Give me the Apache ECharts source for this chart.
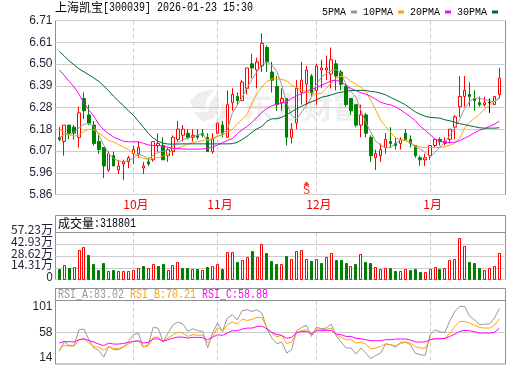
<!DOCTYPE html>
<html><head><meta charset="utf-8">
<style>html,body{margin:0;padding:0;background:#fff}#c{width:520px;height:365px}</style>
<script src="https://cdn.jsdelivr.net/npm/echarts@6/dist/echarts.min.js"></script>
</head><body><div id="c"></div>
<script>
const opens=[6.14,6.12,6.20,6.19,6.14,6.33,6.25,6.20,6.12,6.09,
5.98,6.05,5.98,6.01,6.02,6.06,6.06,5.99,6.02,6.03,
6.10,6.10,6.05,6.07,6.13,6.15,6.16,6.14,6.15,6.16,
6.14,6.07,6.16,6.20,6.14,6.31,6.34,6.32,6.38,6.50,
6.47,6.49,6.58,6.46,6.39,6.31,6.33,6.14,6.21,6.36,
6.40,6.44,6.37,6.47,6.47,6.45,6.50,6.46,6.39,6.33,
6.30,6.20,6.25,6.14,6.04,6.05,6.09,6.12,6.11,6.11,
6.16,6.13,6.10,6.04,6.03,6.05,6.10,6.13,6.11,6.13,
6.19,6.29,6.34,6.35,6.33,6.31,6.30,6.31,6.30,6.35];
const closes=[6.13,6.20,6.16,6.16,6.26,6.27,6.21,6.11,6.08,6.00,
6.06,6.00,6.00,6.02,6.04,6.08,6.09,6.00,6.01,6.12,
6.11,6.03,6.08,6.14,6.18,6.18,6.14,6.15,6.14,6.15,
6.07,6.13,6.21,6.16,6.30,6.35,6.32,6.41,6.48,6.48,
6.51,6.60,6.51,6.42,6.30,6.33,6.14,6.18,6.38,6.42,
6.47,6.36,6.49,6.48,6.48,6.52,6.44,6.40,6.30,6.27,
6.20,6.25,6.16,6.05,6.06,6.08,6.13,6.11,6.10,6.13,
6.13,6.11,6.05,6.03,6.04,6.10,6.13,6.12,6.12,6.18,
6.24,6.34,6.37,6.34,6.32,6.30,6.31,6.31,6.34,6.43];
const lows=[6.12,6.05,6.13,6.13,6.09,6.23,6.20,6.10,6.06,5.94,
5.97,6.00,5.96,5.93,5.99,6.01,6.04,5.96,6.00,6.02,
6.07,6.03,6.02,6.05,6.12,6.12,6.13,6.12,6.13,6.14,
6.07,6.06,6.16,6.14,6.14,6.27,6.30,6.32,6.35,6.43,
6.38,6.46,6.46,6.36,6.27,6.27,6.10,6.11,6.18,6.30,
6.30,6.34,6.30,6.38,6.42,6.38,6.37,6.37,6.29,6.25,
6.19,6.14,6.14,6.02,5.98,6.02,6.06,6.09,6.08,6.08,
6.13,6.09,6.04,6.00,6.00,6.03,6.09,6.10,6.10,6.11,
6.13,6.24,6.29,6.29,6.27,6.29,6.29,6.26,6.30,6.33];
const highs=[6.19,6.20,6.20,6.20,6.29,6.36,6.30,6.22,6.15,6.09,
6.07,6.07,6.03,6.03,6.05,6.10,6.12,6.02,6.04,6.12,
6.16,6.14,6.09,6.15,6.22,6.20,6.18,6.18,6.18,6.18,
6.16,6.16,6.21,6.22,6.37,6.38,6.36,6.42,6.48,6.55,
6.53,6.65,6.59,6.51,6.44,6.38,6.33,6.21,6.42,6.51,
6.49,6.45,6.50,6.52,6.54,6.58,6.52,6.47,6.40,6.33,
6.30,6.30,6.26,6.15,6.08,6.11,6.16,6.19,6.14,6.14,
6.18,6.15,6.10,6.05,6.06,6.10,6.13,6.14,6.14,6.18,
6.25,6.44,6.44,6.41,6.37,6.34,6.34,6.33,6.34,6.48];
const ma5=[6.136,6.155,6.153,6.163,6.187,6.204,6.208,6.194,6.151,6.102,
6.060,6.036,6.024,6.021,6.026,6.038,6.058,6.050,6.033,6.053,
6.065,6.072,6.077,6.097,6.114,6.129,6.136,6.143,6.151,6.158,
6.121,6.131,6.143,6.160,6.177,6.258,6.297,6.336,6.385,6.424,
6.463,6.497,6.509,6.495,6.463,6.395,6.307,6.248,6.229,6.263,
6.297,6.336,6.400,6.434,6.453,6.466,6.473,6.453,6.400,6.365,
6.336,6.273,6.214,6.165,6.121,6.102,6.090,6.090,6.111,6.126,
6.126,6.111,6.092,6.082,6.067,6.043,6.067,6.094,6.116,6.151,
6.185,6.229,6.282,6.317,6.331,6.331,6.326,6.319,6.314,6.331];
const ma10=[6.180,6.165,6.153,6.146,6.151,6.170,6.180,6.177,6.160,6.143,
6.126,6.116,6.104,6.092,6.080,6.063,6.048,6.038,6.031,6.038,
6.041,6.048,6.060,6.077,6.089,6.097,6.107,6.114,6.119,6.124,
6.129,6.136,6.146,6.151,6.165,6.180,6.204,6.229,6.253,6.307,
6.356,6.387,6.414,6.427,6.427,6.424,6.417,6.395,6.383,6.373,
6.363,6.354,6.351,6.356,6.380,6.407,6.429,6.439,6.434,6.414,
6.400,6.385,6.365,6.321,6.273,6.224,6.194,6.165,6.138,6.126,
6.124,6.116,6.099,6.092,6.090,6.090,6.090,6.090,6.093,6.102,
6.111,6.136,6.185,6.214,6.234,6.253,6.278,6.297,6.317,6.336];
const ma20=[6.470,6.444,6.414,6.387,6.351,6.307,6.273,6.243,6.204,6.177,
6.158,6.141,6.131,6.121,6.118,6.118,6.118,6.111,6.103,6.100,
6.099,6.098,6.092,6.086,6.085,6.083,6.082,6.082,6.082,6.083,
6.086,6.092,6.102,6.114,6.124,6.134,6.158,6.177,6.194,6.214,
6.238,6.263,6.282,6.295,6.302,6.307,6.314,6.331,6.344,6.354,
6.364,6.375,6.384,6.395,6.405,6.417,6.419,6.412,6.395,6.380,
6.368,6.359,6.351,6.341,6.326,6.312,6.304,6.299,6.290,6.275,
6.258,6.241,6.221,6.194,6.175,6.153,6.132,6.121,6.115,6.115,
6.116,6.124,6.136,6.148,6.163,6.175,6.182,6.194,6.204,6.219];
const ma30=[6.561,6.539,6.514,6.495,6.475,6.461,6.446,6.431,6.414,6.392,
6.368,6.341,6.317,6.295,6.270,6.248,6.219,6.190,6.160,6.136,
6.121,6.111,6.107,6.107,6.107,6.108,6.108,6.108,6.108,6.108,
6.108,6.108,6.108,6.108,6.108,6.109,6.116,6.129,6.146,6.165,
6.182,6.194,6.219,6.231,6.231,6.238,6.251,6.265,6.280,6.292,
6.304,6.314,6.324,6.336,6.341,6.348,6.356,6.361,6.365,6.369,
6.370,6.370,6.369,6.365,6.362,6.356,6.348,6.336,6.324,6.312,
6.300,6.282,6.265,6.253,6.243,6.238,6.236,6.234,6.226,6.221,
6.214,6.207,6.202,6.197,6.192,6.187,6.185,6.185,6.185,6.187];
const volumes=[12.2,17.9,14.6,15.8,36.1,39.8,30.4,18.3,11,20.7,
10.6,11,10.6,10.6,10.6,11.8,14.2,16.6,14.2,19.1,
17,18.3,11,17.9,21.5,14.6,13.4,13,12.2,11,
15.8,16.6,19.1,12.2,33.7,33.7,21.9,23.9,26.8,34.1,
26.8,43.4,31.7,23.1,19.1,19.1,29.2,25.2,34.9,36.1,
25.2,23.1,25.2,19.5,28,32.5,23.9,23.9,20.7,16.6,
18.3,31.3,21.9,20.7,15,13,14.2,13.4,10.1,10.6,
13,11,12.2,9.7,9.3,13,15.4,12.2,14.2,23.9,
25.2,50.7,41,21.9,20.7,14.6,11.8,14.2,16.6,31.88];
const volumeUp=[0,1,0,1,1,1,0,0,0,0,
1,0,1,1,1,1,1,0,1,1,
0,0,1,1,1,0,0,1,0,1,
0,1,1,0,1,1,0,1,1,0,
1,1,0,0,0,1,0,1,1,1,
1,0,1,0,1,1,0,0,0,1,
0,1,0,0,1,1,1,0,0,1,
1,0,0,0,1,1,1,0,1,1,
1,1,1,0,0,0,1,1,1,1];
const rsiA=[31.8,44.6,40,40,61.4,62.4,47.8,36.4,33.2,24,
38.6,34.1,34.1,37.7,45.5,54.6,56.9,37.7,40.9,64.6,
63.7,44.6,56.9,68.3,71.9,69.2,59.2,62.8,60.1,59.2,
36.4,56.9,70.6,59.2,77.4,82,75.1,87.4,88.8,86.5,
88.8,84.2,62.4,50,42.3,44.6,29.5,34.1,60.1,64.6,
67.4,52.3,65.1,62.8,63.7,69.2,53.2,44.6,36.4,36.4,
28.2,36.4,29.5,21.8,26.3,29.5,41.8,40.9,37.3,44.1,
44.6,40.9,29.5,27.2,26.3,54.6,61.4,58.2,58.2,73.8,
86.5,93.4,93.4,79.7,75.1,68.3,69.2,69.2,77.4,90.2];
const rsiB=[35.4,40,39.1,39.1,47.8,48.7,43.2,38.6,37.3,33.2,
38.6,35.9,35.9,37.7,41.8,45.5,45.5,37.7,39.6,51,
51.4,45.5,50,54.6,58.2,56.9,52.3,54.6,54.1,53.7,
43.2,51,64.6,59.2,68.3,71.9,69.2,76,74.2,75.6,
78.3,78.3,63.7,56.9,51.9,53.7,42.7,44.6,57.8,60.1,
61.4,54.6,62.8,61.9,61.9,63.7,54.6,51,47.8,47.8,
43.2,44.6,41.8,35.4,36.4,38.6,42.3,40.9,39.6,42.3,
44.6,43.2,38.6,36.4,36.4,47.8,49.1,49.1,49.6,56.9,
66,72.8,72.8,70.6,67.4,64.6,63.7,63.7,67.4,76.5];
const rsiC=[43.2,45.5,45,44.6,47.8,49.1,46.4,44.6,41.8,39.6,
43.2,41.8,41.8,42.7,44.1,45.5,46.4,43.2,44.1,48.7,
49.1,45.5,47.8,50,51.4,51.4,50,51,51,50.5,
47.8,51,54.6,53.7,56.9,60.1,60.1,62.4,63.7,63.7,
66,66.5,62.4,57.8,55.1,53.7,49.6,51,57.3,58.7,
59.2,56,60.1,60.1,60.5,60.5,55.5,54.6,52.3,52.3,
49.6,49.1,47.8,46.4,46.4,46.4,47.8,47.8,48.7,48.7,
48.7,47.3,44.6,44.6,44.6,47.8,49.1,49.1,49.6,52.3,
55.5,59.2,60.5,60.1,58.7,56.9,56.9,56.9,57.8,63.3];
const months={15:'10月',32:'11月',52:'12月',75:'1月'};
const priceTicks=['5.86','5.96','6.07','6.18','6.28','6.39','6.50','6.61','6.71'];
const volumeTicks=['0','14.31万','28.62万','42.93万','57.23万'];
const rsiTicks=['14','58','101'];
const sellSignals=[[50,5.915]];
const stockName='上海凯宝';
const stockStamp='[300039] 2026-01-23 15:30';

const categories=opens.map((_,i)=>months[i]||String(i));
const candles=opens.map((o,i)=>[o,closes[i],lows[i],highs[i]]);
const RED='#ff0000',GREEN='#008000',GRAY='#999999',ORANGE='#ffa500',MAGENTA='#ff00ff',DKGREEN='#006633',FRAME='#8f8f8f',GRID='#cccccc',TICK='#1c2333';
const mono='"Liberation Mono",monospace',cjk='"Noto Sans CJK SC",sans-serif',sans='"Liberation Sans",Arial,sans-serif';

const panels=[{top:20.5,height:174},{top:232.5,height:47},{top:300.5,height:63.5}];
const grid=[],xAxis=[],yAxis=[];
const pMin=5.86,pStep=5.86/55,pMax=5.86+8*pStep;
const ranges=[
 {min:pMin,max:pMax,interval:pStep,ticks:priceTicks},
 {min:0,max:57.23,interval:57.23/4,ticks:volumeTicks},
 {min:14.5,max:101.5,interval:43.5,ticks:rsiTicks}
];
panels.forEach((p,k)=>{
  grid.push({left:55.5,width:450,top:p.top,height:p.height,show:true,borderColor:FRAME,borderWidth:1,backgroundColor:'transparent'});
  xAxis.push({type:'category',gridIndex:k,data:categories,show:false});
  const r=ranges[k];
  const extra={};
  if(k===2){extra.verticalAlignMinLabel='bottom';extra.verticalAlignMaxLabel='top';}
  yAxis.push({type:'value',gridIndex:k,min:r.min,max:r.max,interval:r.interval,
    axisLine:{show:false},axisTick:{show:false},
    splitLine:{show:true,lineStyle:{color:GRID,width:1}},
    axisLabel:Object.assign({show:k!==1,margin:3,color:TICK,fontFamily:sans,fontSize:12,
      showMinLabel:true,showMaxLabel:true,hideOverlap:false,
      formatter:(v)=>r.ticks[Math.round((v-r.min)/r.interval)]},extra)});
});
panels.forEach((p,k)=>{
  const g=3+k;
  grid.push({left:56.8,width:445,top:p.top,height:p.height,show:false});
  xAxis.push({type:'category',gridIndex:g,data:categories,boundaryGap:true,
    axisLine:{show:false},axisTick:{show:false},
    splitLine:{show:true,alignWithLabel:true,interval:(i)=>i in months,lineStyle:{color:GRID,type:[4,3],width:1}},
    axisLabel:k===0?{show:true,interval:(i)=>i in months,color:RED,fontFamily:cjk,fontSize:12,margin:4,padding:[0,0,0,5],hideOverlap:false}:{show:false}});
  const r=ranges[k];
  yAxis.push({type:'value',gridIndex:g,min:r.min,max:r.max,show:false,splitLine:{show:false}});
});

const lineS=(name,data,color,x,y)=>({name,type:'line',data,xAxisIndex:x,yAxisIndex:y,symbol:'none',smooth:false,
  lineStyle:{color,width:1},itemStyle:{color},z:4,silent:true,animation:false});

// Volume bars drawn on the library's axes, snapped to whole pixels like the reference.
const renderVolume=(params,api)=>{
  const i=api.value(0),top=api.coord([i,api.value(1)]),base=api.coord([i,0]);
  const x=Math.round(top[0]-1.5)+0.5,y=Math.round(top[1])+0.5,h=Math.round(base[1])-0.5-y;
  const up=api.value(2)===1;
  return {type:'rect',shape:{x,y,width:2,height:h},style:{fill:up?'#ffffff':GREEN,stroke:up?RED:GREEN,lineWidth:1}};
};

const series=[
 {name:'K',type:'candlestick',xAxisIndex:3,yAxisIndex:3,data:candles,barWidth:3,silent:true,animation:false,z:3,
  itemStyle:{color:'#ffffff',color0:GREEN,borderColor:RED,borderColor0:GREEN,borderColorDoji:'#000000',borderWidth:1}},
 lineS('5PMA',ma5,GRAY,3,3),
 lineS('10PMA',ma10,ORANGE,3,3),
 lineS('20PMA',ma20,MAGENTA,3,3),
 lineS('30PMA',ma30,DKGREEN,3,3),
 {type:'scatter',xAxisIndex:3,yAxisIndex:3,data:sellSignals,symbol:'triangle',symbolSize:[6,4],silent:true,animation:false,z:5,
  itemStyle:{color:RED},label:{show:true,formatter:'S',position:'bottom',distance:0,color:RED,fontFamily:mono,fontSize:12}},
 {type:'custom',xAxisIndex:4,yAxisIndex:4,silent:true,animation:false,renderItem:renderVolume,
  encode:{x:0,y:1},data:volumes.map((v,i)=>[i,v,volumeUp[i]])},
 lineS('RSI_A',rsiA,GRAY,5,5),
 lineS('RSI_B',rsiB,ORANGE,5,5),
 lineS('RSI_C',rsiC,MAGENTA,5,5)
];

const cjkText=(x,y,text)=>({type:'text',x,y,silent:true,z:10,style:{text,fill:'#000',font:'12px "Noto Sans CJK SC"'}});
const monoText=(x,y,text,fill)=>({type:'text',x,y,scaleY:1.2,silent:true,z:10,style:{text,fill,font:'10px "Liberation Mono"'}});
const hdr=(x,y,w,h)=>({type:'rect',shape:{x,y,width:w,height:h},silent:true,z:1,style:{fill:'transparent',stroke:FRAME,lineWidth:1}});
const logo=(points)=>({type:'polygon',shape:{points},silent:true,z:0,style:{fill:'#eeeeee'}});
const vp=panels[1];
const volumeLabels=volumeTicks.map((t,j)=>({type:'text',x:53,y:vp.top+vp.height*(1-j/(volumeTicks.length-1))-3,silent:true,z:10,
  style:{text:t,fill:TICK,font:'12px "Noto Sans CJK SC"',textAlign:'right',textVerticalAlign:'middle'}}));

const chart=echarts.init(document.getElementById('c'),null,{renderer:'canvas'});
chart.setOption({
  animation:false,backgroundColor:'#ffffff',grid,xAxis,yAxis,series,
  legend:{data:['5PMA','10PMA','20PMA','30PMA'].map(name=>({name,icon:'rect'})),left:317,top:2,align:'right',itemWidth:6,itemHeight:3,itemGap:6,selectedMode:false,
    textStyle:{color:'#000',fontFamily:mono,fontSize:10,padding:0}},
  graphic:[
    logo([[215,89],[200,92],[190,100],[192,108],[205,110],[206,100]]),
    logo([[218,92],[210,102],[208,112],[194,112],[203,122],[214,118],[219,108]]),
    logo([[222,100],[220,115],[212,127],[222,125],[226,112]]),
    {type:'text',x:243,y:92,silent:true,z:0,style:{text:'东方财富',fill:'#eeeeee',font:'bold 30px "Noto Sans CJK SC"'}},
    hdr(55.5,215.5,450,17),hdr(55.5,288.5,450,12),
    cjkText(55,1,stockName),monoText(103,2,stockStamp,'#000'),
    cjkText(58,217,'成交量'),monoText(94,218,':318801','#000'),
    monoText(58,289,'RSI_A:83.02',GRAY),monoText(130,289,'RSI_B:70.21',ORANGE),monoText(202,289,'RSI_C:58.88',MAGENTA)
  ].concat(volumeLabels)
});
</script></body></html>
